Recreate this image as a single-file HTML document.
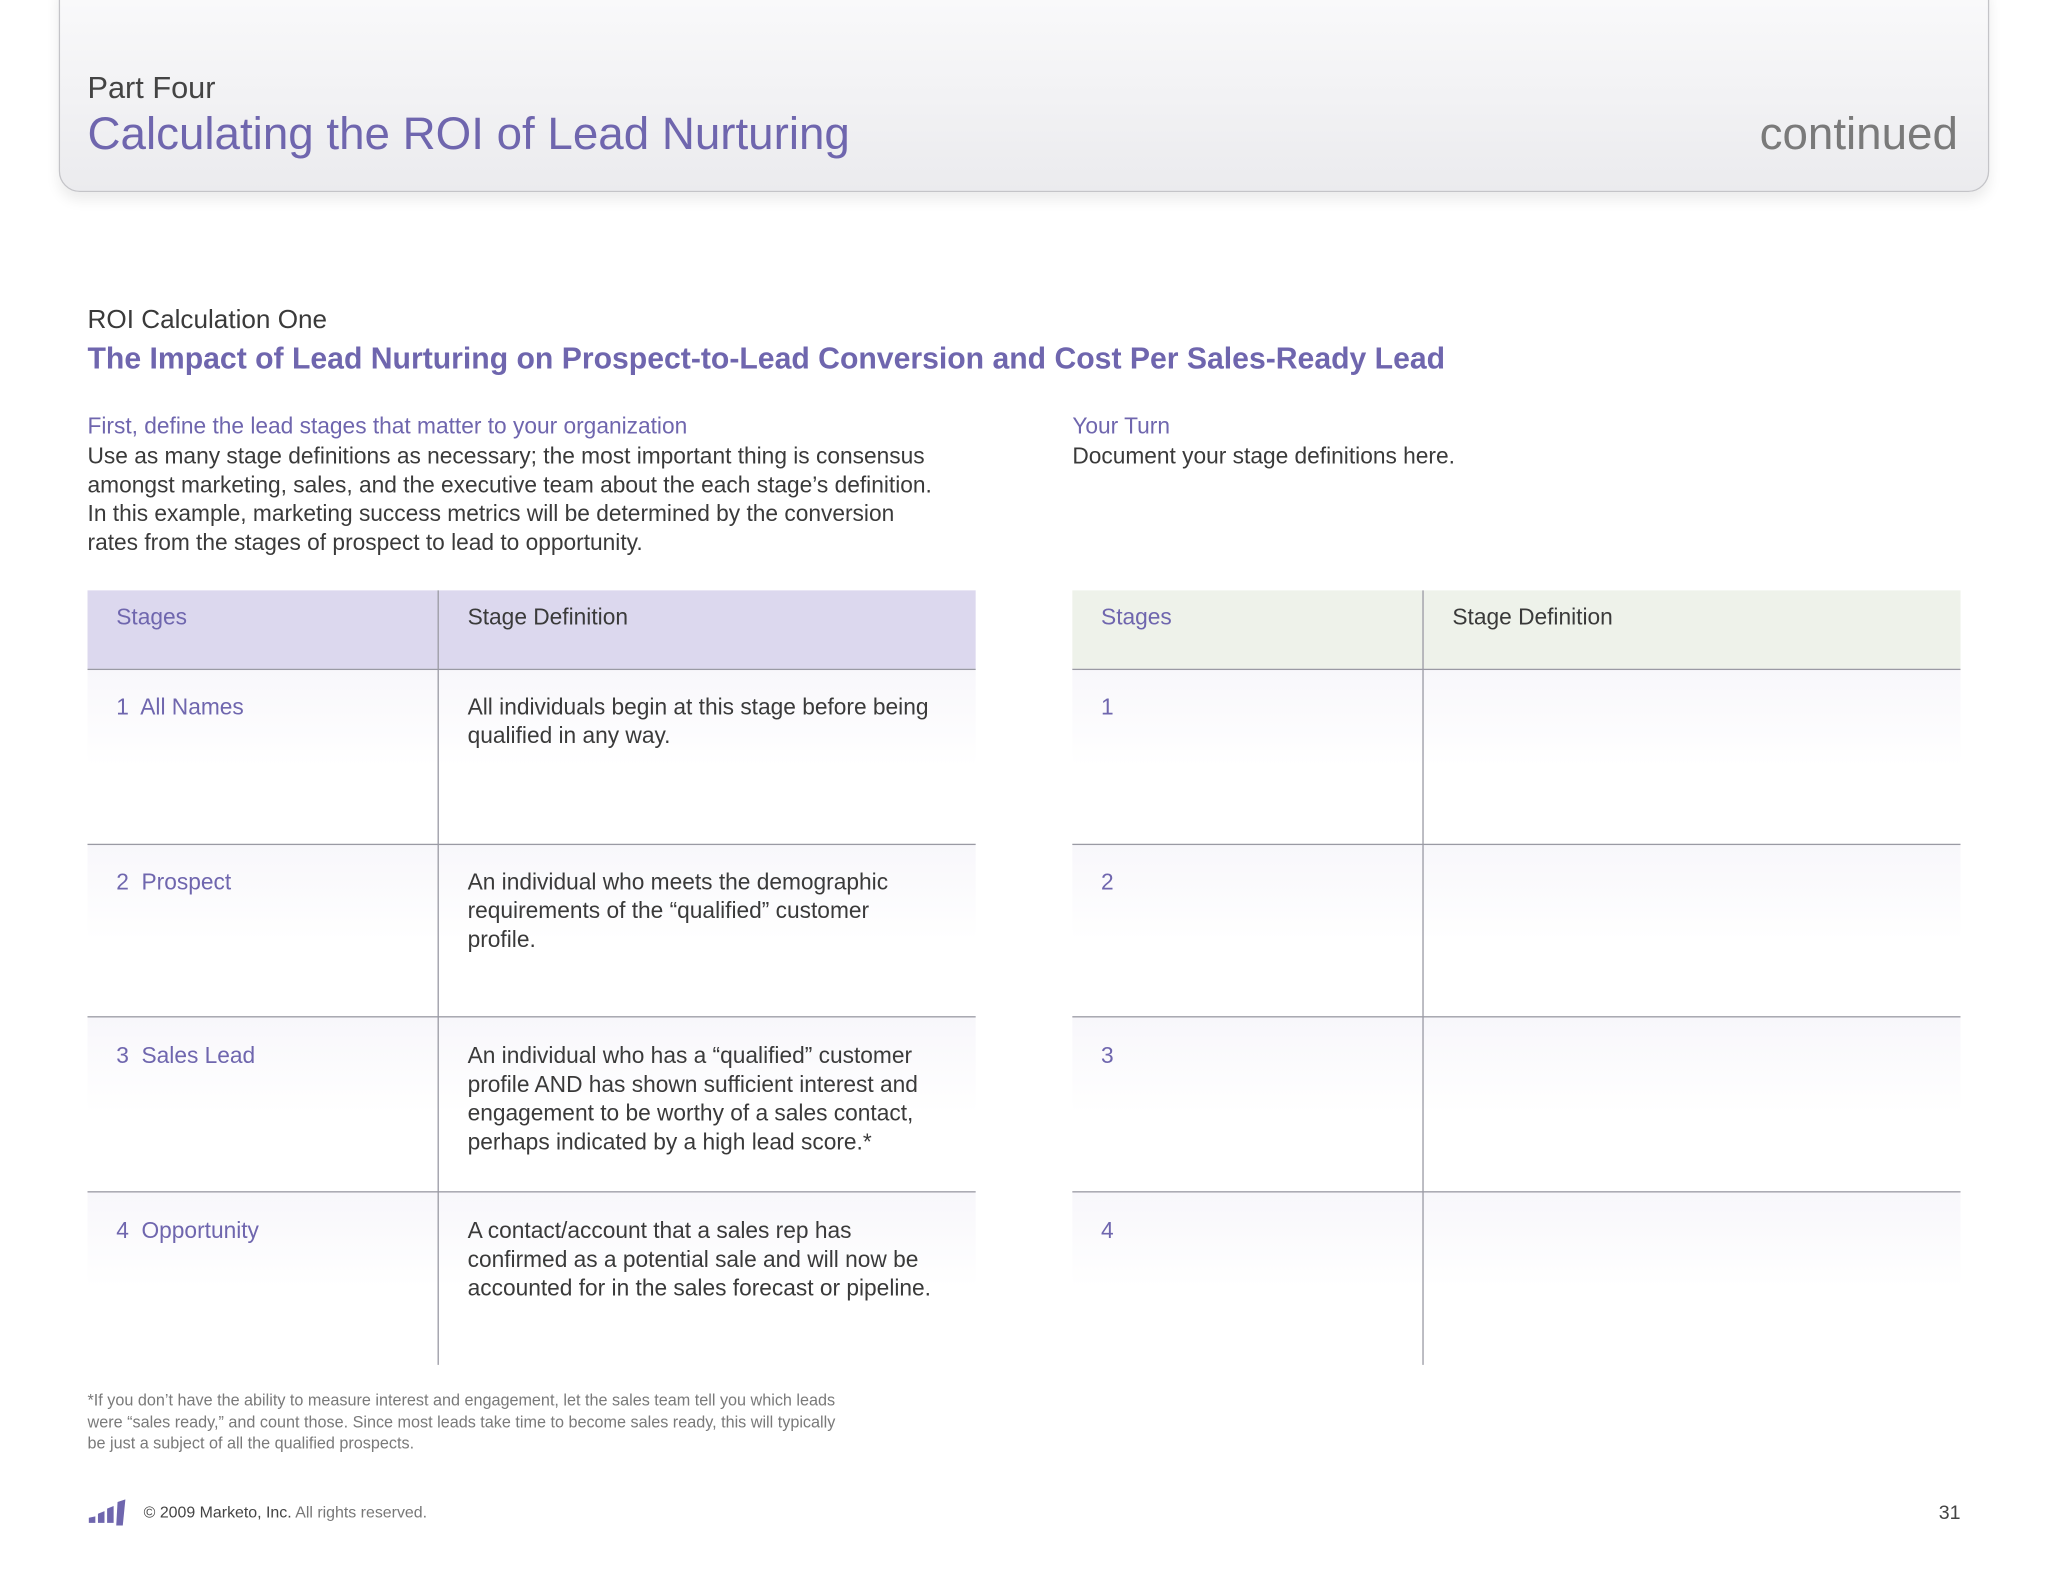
<!DOCTYPE html>
<html><head><meta charset="utf-8"><style>
html,body{margin:0;padding:0;background:#fff;}
body{width:2048px;height:1582px;overflow:hidden;font-family:"Liberation Sans",sans-serif;}
#page{position:absolute;left:0;top:0;width:1568px;height:1211px;transform:scale(1.30612);transform-origin:0 0;}
.abs{position:absolute;white-space:nowrap;}
.hdr{position:absolute;left:45px;top:-10px;width:1476px;height:155px;border:1px solid #c4c4c8;border-radius:0 0 16px 16px;background:linear-gradient(#fafafb,#ebebee);box-shadow:0 6px 10px rgba(0,0,0,0.08);}
.pur{color:#6f66ae;}
.body{color:#3a3a3a;font-size:17.4px;line-height:22px;}
.tbl{position:absolute;top:452px;width:680px;height:593px;}
.hd{position:absolute;left:0;top:0;width:680px;height:60px;}
.row{position:absolute;left:0;width:680px;background:linear-gradient(#f8f7fb,#fff 55%);border-top:1px solid #9a9aa4;}
.vdiv{position:absolute;left:268px;top:0;width:1px;height:593px;background:#9a9aa4;}
.cell{position:absolute;font-size:17.4px;line-height:22px;}
</style></head><body>
<div id="page">
<div class="hdr"></div>
<div class="abs" style="left:67px;top:54px;font-size:23.5px;color:#444;">Part Four</div>
<div class="abs pur" style="left:67px;top:83px;font-size:35px;">Calculating the ROI of Lead Nurturing</div>
<div class="abs" style="right:69px;top:83px;font-size:35px;color:#7a7a7a;">continued</div>

<div class="abs" style="left:67px;top:234px;font-size:20px;color:#3a3a3a;">ROI Calculation One</div>
<div class="abs pur" style="left:67px;top:261px;font-size:23.1px;font-weight:bold;">The Impact of Lead Nurturing on Prospect-to-Lead Conversion and Cost Per Sales-Ready Lead</div>

<div class="abs pur" style="left:67px;top:316px;font-size:17.4px;">First, define the lead stages that matter to your organization</div>
<div class="abs body" style="left:67px;top:338px;">Use as many stage definitions as necessary; the most important thing is consensus<br>amongst marketing, sales, and the executive team about the each stage’s definition.<br>In this example, marketing success metrics will be determined by the conversion<br>rates from the stages of prospect to lead to opportunity.</div>
<div class="abs pur" style="left:821px;top:316px;font-size:17.4px;">Your Turn</div>
<div class="abs body" style="left:821px;top:338px;">Document your stage definitions here.</div>

<div class="tbl" style="left:67px;">
 <div class="hd" style="background:#dcd8ee;"></div>
 <div class="row" style="top:60px;height:134px;"></div>
 <div class="row" style="top:194px;height:132px;"></div>
 <div class="row" style="top:326px;height:134px;"></div>
 <div class="row" style="top:460px;height:133px;"></div>
 <div class="vdiv"></div>
 <div class="cell pur" style="left:22px;top:9px;">Stages</div>
 <div class="cell" style="left:291px;top:9px;color:#3a3a3a;">Stage Definition</div>
 <div class="cell pur" style="left:22px;top:78px;">1&nbsp; All Names</div>
 <div class="cell" style="left:291px;top:78px;color:#3a3a3a;">All individuals begin at this stage before being<br>qualified in any way.</div>
 <div class="cell pur" style="left:22px;top:212px;">2&nbsp; Prospect</div>
 <div class="cell" style="left:291px;top:212px;color:#3a3a3a;">An individual who meets the demographic<br>requirements of the “qualified” customer<br>profile.</div>
 <div class="cell pur" style="left:22px;top:345px;">3&nbsp; Sales Lead</div>
 <div class="cell" style="left:291px;top:345px;color:#3a3a3a;">An individual who has a “qualified” customer<br>profile AND has shown sufficient interest and<br>engagement to be worthy of a sales contact,<br>perhaps indicated by a high lead score.*</div>
 <div class="cell pur" style="left:22px;top:479px;">4&nbsp; Opportunity</div>
 <div class="cell" style="left:291px;top:479px;color:#3a3a3a;">A contact/account that a sales rep has<br>confirmed as a potential sale and will now be<br>accounted for in the sales forecast or pipeline.</div>
</div>

<div class="tbl" style="left:821px;">
 <div class="hd" style="background:#eef2ea;"></div>
 <div class="row" style="top:60px;height:134px;"></div>
 <div class="row" style="top:194px;height:132px;"></div>
 <div class="row" style="top:326px;height:134px;"></div>
 <div class="row" style="top:460px;height:133px;"></div>
 <div class="vdiv"></div>
 <div class="cell pur" style="left:22px;top:9px;">Stages</div>
 <div class="cell" style="left:291px;top:9px;color:#3a3a3a;">Stage Definition</div>
 <div class="cell pur" style="left:22px;top:78px;">1</div>
 <div class="cell pur" style="left:22px;top:212px;">2</div>
 <div class="cell pur" style="left:22px;top:345px;">3</div>
 <div class="cell pur" style="left:22px;top:479px;">4</div>
</div>

<div class="abs" style="left:67px;top:1064px;font-size:12.4px;line-height:16.5px;color:#7a7a7a;">*If you don’t have the ability to measure interest and engagement, let the sales team tell you which leads<br>were “sales ready,” and count those. Since most leads take time to become sales ready, this will typically<br>be just a subject of all the qualified prospects.</div>

<svg class="abs" style="left:67px;top:1148px;" width="30" height="22">
 <polygon points="1,14 6,13 6,18 1,18" fill="#6f66ae"/>
 <polygon points="8,11 13,9 13,18 8,18" fill="#6f66ae"/>
 <polygon points="15,7 20,5 20,18 15,18" fill="#6f66ae"/>
 <polygon points="23,2 29,0 27,20 22,20" fill="#6f66ae"/>
</svg>
<div class="abs" style="left:110px;top:1151px;font-size:12.2px;color:#444;">© 2009 Marketo, Inc. <span style="color:#777">All rights reserved.</span></div>
<div class="abs" style="right:67px;top:1150px;font-size:15px;color:#444;">31</div>
</div>
</body></html>
